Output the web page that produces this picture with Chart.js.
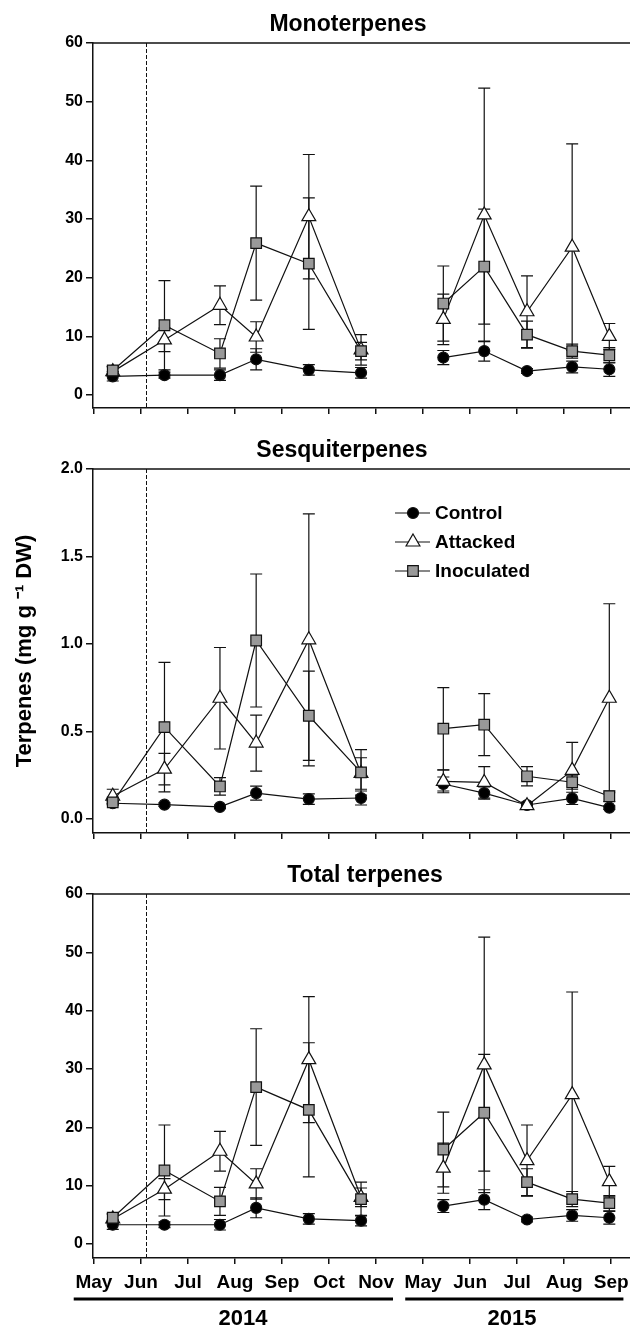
<!DOCTYPE html>
<html>
<head>
<meta charset="utf-8">
<title>Terpenes</title>
<script src="https://cdn.jsdelivr.net/npm/chart.js@4.4.0/dist/chart.umd.min.js"></script>
<style>
  body { margin: 0; background: #fff; }
  #figure { position: relative; width: 630px; height: 1330px; background: #fff; }
  canvas { position: absolute; left: 0; }
</style>
</head>
<body>
<div id="figure">
  <canvas id="monoChart" width="630" height="430" style="top:0px"></canvas>
  <canvas id="sesqChart" width="630" height="425" style="top:430px"></canvas>
  <canvas id="totalChart" width="630" height="475" style="top:855px"></canvas>
</div>
<script>
const monthLabels = ['May', 'Jun', 'Jul', 'Aug', 'Sep', 'Oct', 'Nov', 'May', 'Jun', 'Jul', 'Aug', 'Sep'];
// sampling dates in month units from May 2014 (Nov 2014 and May 2015 are next to each other)
const sampleMonths = [0.4, 1.5, 2.68, 3.45, 4.57, 5.68, 7.43, 8.3, 9.21, 10.17, 10.96];
const inoculationMonth = 1.1;
const seriesNames = ['Control', 'Attacked', 'Inoculated'];
const years = ['2014', '2015'];
const yearStart = [-0.43, 6.62];
const yearEnd = [6.36, 11.26];
const yearMid = [3.17, 8.89];

const monoTicks = [0, 10, 20, 30, 40, 50, 60];
const sesqTicks = [0, 0.5, 1.0, 1.5, 2.0];
const totalTicks = [0, 10, 20, 30, 40, 50, 60];

// Monoterpenes
const controlMono = [3.2, 3.4, 3.4, 6.1, 4.3, 3.8, 6.4, 7.5, 4.1, 4.8, 4.4];
const controlMonoErr = [0.8, 0.5, 0.9, 1.8, 0.9, 0.9, 1.2, 1.7, 0.4, 1.0, 1.2];
const attackedMono = [4.0, 9.4, 15.3, 9.9, 30.4, 7.7, 12.9, 30.7, 14.2, 25.2, 10.0];
const attackedMonoErr = [0.8, 2.0, 3.3, 2.6, 10.6, 2.6, 4.3, 21.6, 6.1, 17.6, 2.2];
const inocMono = [4.2, 11.9, 7.1, 25.9, 22.4, 7.5, 15.6, 21.9, 10.3, 7.5, 6.8];
const inocMonoErr = [0.7, 7.6, 2.5, 9.7, 11.2, 1.5, 6.4, 9.8, 2.3, 1.2, 1.3];

// Sesquiterpenes
const controlSesq = [0.09, 0.082, 0.069, 0.148, 0.114, 0.12, 0.2, 0.148, 0.08, 0.118, 0.065];
const controlSesqErr = [0.01, 0.01, 0.01, 0.04, 0.03, 0.04, 0.04, 0.035, 0.01, 0.035, 0.01];
const attackedSesq = [0.13, 0.285, 0.69, 0.434, 1.024, 0.26, 0.215, 0.209, 0.076, 0.278, 0.69];
const attackedSesqErr = [0.04, 0.09, 0.29, 0.16, 0.72, 0.09, 0.065, 0.09, 0.02, 0.16, 0.54];
const inocSesq = [0.095, 0.525, 0.186, 1.02, 0.59, 0.266, 0.516, 0.539, 0.244, 0.21, 0.13];
const inocSesqErr = [0.01, 0.37, 0.05, 0.38, 0.255, 0.13, 0.235, 0.177, 0.055, 0.04, 0.03];

// Total terpenes
const controlTotal = [3.3, 3.3, 3.3, 6.2, 4.3, 4.0, 6.5, 7.6, 4.2, 4.9, 4.5];
const controlTotalErr = [0.8, 0.5, 0.9, 1.7, 0.9, 0.9, 1.1, 1.7, 0.4, 1.0, 1.1];
const attackedTotal = [4.3, 9.4, 15.9, 10.3, 31.6, 8.0, 13.0, 30.7, 14.3, 25.6, 10.7];
const attackedTotalErr = [0.8, 1.8, 3.4, 2.6, 10.8, 1.6, 4.3, 21.9, 6.1, 17.6, 2.6];
const inocTotal = [4.5, 12.6, 7.3, 26.9, 23.0, 7.7, 16.2, 22.5, 10.6, 7.7, 7.0];
const inocTotalErr = [0.7, 7.8, 2.4, 10.0, 11.5, 2.9, 6.4, 10.0, 2.3, 1.3, 1.3];

Chart.defaults.font.family = "'Liberation Sans', Arial, sans-serif";
Chart.defaults.color = '#000';

const ink = '#111';
const seriesStyle = [
    { pointStyle: 'circle', radius: 5.5, fill: '#000' },
    { pointStyle: 'triangle', radius: 8, fill: '#fff' },
    { pointStyle: 'rect', radius: 7.5, fill: '#999' },
];

const toPoints = (values, errors) => {
    const pts = sampleMonths.map((m, i) => ({ x: m, y: values[i], err: errors[i] }));
    pts.splice(6, 0, { x: 6.5, y: null, err: 0 }); // break between the two seasons
    return pts;
};

const makeDataset = (i, values, errors) => ({
    label: seriesNames[i],
    data: toPoints(values, errors),
    borderColor: ink,
    borderWidth: 1.2,
    pointStyle: seriesStyle[i].pointStyle,
    pointRadius: seriesStyle[i].radius,
    pointBackgroundColor: seriesStyle[i].fill,
    pointBorderColor: ink,
    pointBorderWidth: 1.2,
    tension: 0,
    spanGaps: false,
    order: 2 - i,
});

const drawMarker = (ctx, style, x, y) => {
    const r = style.radius;
    ctx.beginPath();
    if (style.pointStyle === 'circle') {
        ctx.arc(x, y, r, 0, Math.PI * 2);
    } else if (style.pointStyle === 'triangle') {
        ctx.moveTo(x, y - r);
        ctx.lineTo(x + r * 0.866, y + r / 2);
        ctx.lineTo(x - r * 0.866, y + r / 2);
        ctx.closePath();
    } else {
        const s = r * Math.SQRT1_2;
        ctx.rect(x - s, y - s, 2 * s, 2 * s);
    }
    ctx.fillStyle = style.fill;
    ctx.fill();
    ctx.lineWidth = 1.2;
    ctx.strokeStyle = ink;
    ctx.stroke();
};

const errorBars = {
    id: 'errorBars',
    beforeDatasetsDraw(chart) {
        const ctx = chart.ctx;
        const xs = chart.scales.x, ys = chart.scales.y;
        ctx.save();
        ctx.strokeStyle = ink;
        ctx.lineWidth = 1.2;
        chart.data.datasets.forEach((ds) => {
            ds.data.forEach((p) => {
                if (p.y === null) return;
                const x = xs.getPixelForValue(p.x);
                const yTop = ys.getPixelForValue(p.y + p.err);
                const yBot = ys.getPixelForValue(p.y - p.err);
                ctx.beginPath();
                ctx.moveTo(x, yTop); ctx.lineTo(x, yBot);
                ctx.moveTo(x - 6, yTop); ctx.lineTo(x + 6, yTop);
                ctx.moveTo(x - 6, yBot); ctx.lineTo(x + 6, yBot);
                ctx.stroke();
            });
        });
        ctx.restore();
    },
};

const panelFrame = {
    id: 'panelFrame',
    beforeDatasetsDraw(chart) {
        const ctx = chart.ctx;
        const area = chart.chartArea;
        ctx.save();
        ctx.strokeStyle = ink;
        ctx.lineWidth = 1.5;
        ctx.beginPath();
        ctx.moveTo(area.left, area.top);
        ctx.lineTo(area.right, area.top);
        ctx.stroke();
        // inoculation date
        const x = Math.round(chart.scales.x.getPixelForValue(inoculationMonth)) + 0.5;
        ctx.lineWidth = 1;
        ctx.setLineDash([4, 2]);
        ctx.beginPath();
        ctx.moveTo(x, area.top);
        ctx.lineTo(x, area.bottom);
        ctx.stroke();
        ctx.restore();
    },
};

const panelText = {
    id: 'panelText',
    afterDraw(chart, args, opts) {
        const ctx = chart.ctx;
        const area = chart.chartArea;
        const xs = chart.scales.x;
        ctx.save();
        ctx.fillStyle = '#000';
        ctx.textAlign = 'center';
        ctx.textBaseline = 'middle';
        ctx.font = "bold 23px 'Liberation Sans', Arial, sans-serif";
        ctx.fillText(opts.title, opts.titleX, area.top - 18);

        if (opts.showYears) {
            ctx.lineWidth = 3;
            ctx.strokeStyle = '#000';
            ctx.font = "bold 22px 'Liberation Sans', Arial, sans-serif";
            years.forEach((label, i) => {
                const y = area.bottom + 41;
                ctx.beginPath();
                ctx.moveTo(xs.getPixelForValue(yearStart[i]), y);
                ctx.lineTo(xs.getPixelForValue(yearEnd[i]), y);
                ctx.stroke();
                ctx.fillText(label, xs.getPixelForValue(yearMid[i]), area.bottom + 61);
            });
        }

        if (opts.legend) {
            ctx.font = "bold 19px 'Liberation Sans', Arial, sans-serif";
            ctx.textAlign = 'left';
            seriesNames.forEach((name, i) => {
                const x = opts.legend.x;
                const y = opts.legend.y + i * 29;
                ctx.strokeStyle = ink;
                ctx.lineWidth = 1.2;
                ctx.beginPath();
                ctx.moveTo(x, y);
                ctx.lineTo(x + 35, y);
                ctx.stroke();
                drawMarker(ctx, seriesStyle[i], x + 18, y);
                ctx.fillStyle = '#000';
                ctx.fillText(name, x + 40, y + 1);
            });
        }
        ctx.restore();
    },
};

const renderPanel = (canvasId, datasets, panel) => {
    var ctx = document.getElementById(canvasId).getContext('2d');
    return new Chart(ctx, {
        type: 'line',
        data: { datasets: datasets },
        options: {
            responsive: false,
            animation: false,
            devicePixelRatio: 1,
            events: [],
            layout: { autoPadding: false, padding: { top: panel.topPad, left: 0, right: 0, bottom: 0 } },
            scales: {
                x: {
                    type: 'linear',
                    min: -0.02,
                    max: 11.4,
                    afterBuildTicks: (s) => { s.ticks = monthLabels.map((m, i) => ({ value: i })); },
                    afterFit: (s) => {
                        s.height = panel.xHeight;
                        s.paddingLeft = 0;
                        s.paddingRight = 0;
                    },
                    grid: { drawOnChartArea: false, drawTicks: true, tickLength: 6, color: ink, lineWidth: 1.5 },
                    border: { display: true, color: ink, width: 1.5 },
                    ticks: {
                        display: panel.showMonths,
                        autoSkip: false,
                        maxRotation: 0,
                        padding: 7,
                        color: '#000',
                        font: { size: 19, weight: 'bold' },
                        callback: (v) => monthLabels[Math.round(v)],
                    },
                },
                y: {
                    min: panel.yMin,
                    max: panel.yMax,
                    afterBuildTicks: (s) => { s.ticks = panel.yTicks.map((v) => ({ value: v })); },
                    afterFit: (s) => { s.width = 93; },
                    grid: { drawOnChartArea: false, drawTicks: true, tickLength: 7, color: ink, lineWidth: 1.5 },
                    border: { display: true, color: ink, width: 1.5 },
                    ticks: {
                        padding: 3,
                        color: '#000',
                        font: { size: 16, weight: 'bold' },
                        callback: (v) => v.toFixed(panel.decimals),
                    },
                    title: {
                        display: !!panel.yTitle,
                        text: panel.yTitle || '',
                        color: '#000',
                        font: { size: 22, weight: 'bold' },
                        padding: { top: 12, bottom: 0 },
                    },
                },
            },
            plugins: {
                legend: { display: false },
                tooltip: { enabled: false },
                panelText: {
                    title: panel.title,
                    titleX: panel.titleX,
                    showYears: panel.showYears,
                    legend: panel.legend,
                },
            },
        },
        plugins: [panelFrame, errorBars, panelText],
    });
};

const drawFigure = () => {
    renderPanel('monoChart', [
        makeDataset(0, controlMono, controlMonoErr),
        makeDataset(1, attackedMono, attackedMonoErr),
        makeDataset(2, inocMono, inocMonoErr),
    ], {
        title: 'Monoterpenes', titleX: 348, topPad: 43, xHeight: 22,
        yMin: -2.2, yMax: 60, yTicks: monoTicks, decimals: 0,
        showMonths: false, showYears: false,
    });

    renderPanel('sesqChart', [
        makeDataset(0, controlSesq, controlSesqErr),
        makeDataset(1, attackedSesq, attackedSesqErr),
        makeDataset(2, inocSesq, inocSesqErr),
    ], {
        title: 'Sesquiterpenes', titleX: 342, topPad: 39, xHeight: 22,
        yMin: -0.08, yMax: 2.0, yTicks: sesqTicks, decimals: 1,
        showMonths: false, showYears: false,
        yTitle: 'Terpenes (mg g \u207B\u00B9 DW)',
        legend: { x: 395, y: 83 },
    });

    renderPanel('totalChart', [
        makeDataset(0, controlTotal, controlTotalErr),
        makeDataset(1, attackedTotal, attackedTotalErr),
        makeDataset(2, inocTotal, inocTotalErr),
    ], {
        title: 'Total terpenes', titleX: 365, topPad: 39, xHeight: 72,
        yMin: -2.4, yMax: 60, yTicks: totalTicks, decimals: 0,
        showMonths: true, showYears: true,
    });
};

window.addEventListener('load', drawFigure);
</script>
</body>
</html>
